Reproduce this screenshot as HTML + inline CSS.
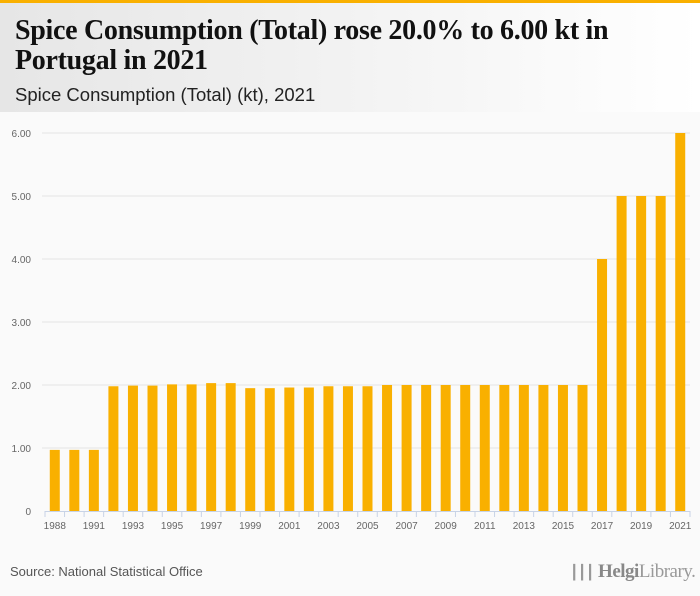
<!DOCTYPE html>
<html><head><meta charset="utf-8">
<style>
body{margin:0;width:700px;height:596px;overflow:hidden;background:#fafafa;font-family:"Liberation Sans",sans-serif;position:relative}
#topbar{position:absolute;left:0;top:0;width:700px;height:3px;background:#f9b000}
#header{position:absolute;left:0;top:3px;width:700px;height:109px;background:linear-gradient(90deg,#e6e6e6,#ffffff)}
#title{position:absolute;left:15px;top:13px;width:655px;font-family:"Liberation Serif",serif;font-weight:bold;font-size:28px;line-height:30px;color:#111;letter-spacing:-0.3px}
#subtitle{position:absolute;left:15px;top:81px;font-size:18.5px;color:#222}
#source{position:absolute;left:10px;top:564px;font-size:13px;color:#555}
#logo{position:absolute;left:570px;top:561px;font-family:"Liberation Serif",serif;font-size:19px;color:#999;letter-spacing:-0.5px}
</style></head><body>
<div id="topbar"></div>
<div id="header">
<div id="title">Spice Consumption (Total) rose 20.0% to 6.00 kt in Portugal in 2021</div>
<div id="subtitle">Spice Consumption (Total) (kt), 2021</div>
</div>
<svg id="chart" width="700" height="596" style="position:absolute;left:0;top:0"></svg>
<div id="source">Source: National Statistical Office</div>
<div id="logo"><span style="font-size:14px">&#x2503;&#x2503;&#x2503;</span> <b style="color:#888">Helgi</b>Library.</div>
<script>
const categories=["1988","1990","1991","1992","1993","1994","1995","1996","1997","1998","1999","2000","2001","2002","2003","2004","2005","2006","2007","2008","2009","2010","2011","2012","2013","2014","2015","2016","2017","2018","2019","2020","2021"];
const values=[0.97,0.97,0.97,1.98,1.99,1.99,2.01,2.01,2.03,2.03,1.95,1.95,1.96,1.96,1.98,1.98,1.98,2.00,2.00,2.00,2.00,2.00,2.00,2.00,2.00,2.00,2.00,2.00,4.00,5.00,5.00,5.00,6.00];
const yTicks=[0,1,2,3,4,5,6];
const yTickLabels=["0","1.00","2.00","3.00","4.00","5.00","6.00"];
const svg=document.getElementById('chart');
const NS='http://www.w3.org/2000/svg';
const x0=45,x1=690,y0=511,yTop=133,yMax=6;
const band=(x1-x0)/categories.length;
function y(v){return y0-(v/yMax)*(y0-yTop);}
function xc(i){return x0+band*(i+0.5);}
function mk(t,a){const e=document.createElementNS(NS,t);for(const k in a)e.setAttribute(k,a[k]);svg.appendChild(e);return e;}
yTicks.forEach((t,i)=>{
  if(t>0){const g=mk('line',{x1:42,x2:690,y1:y(t),y2:y(t),stroke:'#e4e4e4','stroke-width':1});
  
  }
  const l=mk('text',{x:31,y:y(t)+4,'text-anchor':'end','font-size':10,fill:'#666','font-family':'Liberation Sans, sans-serif'});
  l.textContent=yTickLabels[i];
  
  
});
values.forEach((v,i)=>{
  const r=mk('rect',{x:xc(i)-5,y:y(v),width:10,height:y0-y(v),fill:'#f9b000'});
  
  
});
const ax=mk('line',{x1:x0,x2:x1,y1:y0+0.5,y2:y0+0.5,stroke:'#c8d3e6','stroke-width':1});


for(let i=0;i<=categories.length;i++){
  const tk=mk('line',{x1:x0+band*i,x2:x0+band*i,y1:y0,y2:y0+6,stroke:'#c8d3e6','stroke-width':1});
  
  
}
categories.forEach((c,i)=>{
  if(i%2===0){
    const t=mk('text',{x:xc(i),y:529,'text-anchor':'middle','font-size':10,fill:'#666','font-family':'Liberation Sans, sans-serif'});
    t.textContent=c;
    
    
  }
});
</script>
</body></html>
